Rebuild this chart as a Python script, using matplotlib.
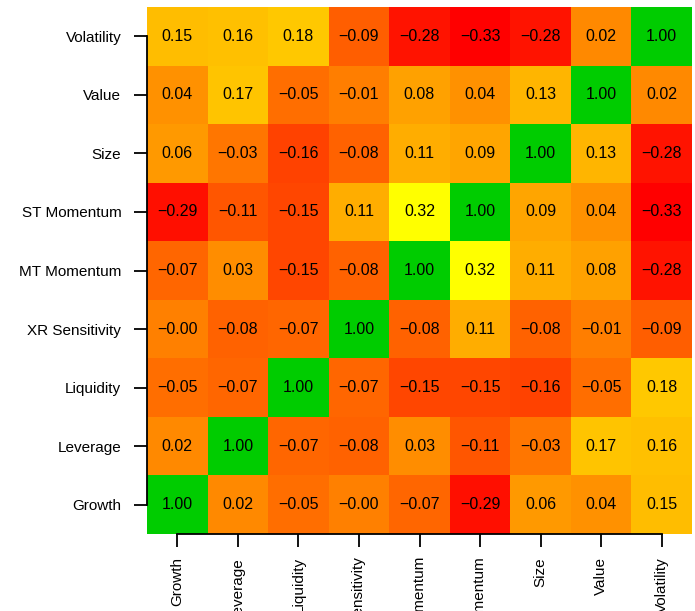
import numpy as np
import matplotlib.pyplot as plt
from matplotlib.colors import LinearSegmentedColormap

plt.rcParams['font.family'] = ['Liberation Sans', 'DejaVu Sans']

factors = ['Growth', 'Leverage', 'Liquidity', 'XR Sensitivity', 'MT Momentum',
           'ST Momentum', 'Size', 'Value', 'Volatility']

# correlation rows, listed bottom (Growth) to top (Volatility)
growth = [1.00, 0.02, -0.05, -0.004, -0.07, -0.29, 0.06, 0.04, 0.15]
leverage = [0.02, 1.00, -0.07, -0.08, 0.03, -0.11, -0.03, 0.17, 0.16]
liquidity = [-0.05, -0.07, 1.00, -0.07, -0.15, -0.15, -0.16, -0.05, 0.18]
xr_sens = [-0.004, -0.08, -0.07, 1.00, -0.08, 0.11, -0.08, -0.01, -0.09]
mt_mom = [-0.07, 0.03, -0.15, -0.08, 1.00, 0.32, 0.11, 0.08, -0.28]
st_mom = [-0.29, -0.11, -0.15, 0.11, 0.32, 1.00, 0.09, 0.04, -0.33]
size = [0.06, -0.03, -0.16, -0.08, 0.11, 0.09, 1.00, 0.13, -0.28]
value = [0.04, 0.17, -0.05, -0.01, 0.08, 0.04, 0.13, 1.00, 0.02]
volatility = [0.15, 0.16, 0.18, -0.09, -0.28, -0.33, -0.28, 0.02, 1.00]

corr = np.array([growth, leverage, liquidity, xr_sens, mt_mom,
                 st_mom, size, value, volatility])
n = len(factors)

# off-diagonal cells go red -> yellow, diagonal is green
off = np.ma.masked_where(np.eye(n, dtype=bool), corr)
diag = np.ma.masked_where(~np.eye(n, dtype=bool), corr)
heat = LinearSegmentedColormap.from_list('heat', ['#ff0000', '#ffff00'])
lo, hi = off.min(), off.max()

fig = plt.figure(figsize=(6.95, 6.11), dpi=100)
ax = fig.add_axes([147 / 695, 77 / 611, 545 / 695, 527 / 611])

edges = np.arange(n + 1) - 0.5
ax.pcolormesh(edges, edges, off, cmap=heat, vmin=lo, vmax=hi)
ax.pcolormesh(edges, edges, diag, cmap=LinearSegmentedColormap.from_list('g', ['#00cc00', '#00cc00']))

for i in range(n):
    for j in range(n):
        txt = f'{corr[i, j]:.2f}'.replace('-', '\u2212')
        ax.text(j, i, txt, ha='center', va='center', fontsize=11.5, color='black')

ax.set_xlim(-0.5, n - 0.5)
ax.set_ylim(-0.5, n - 0.5)
ax.set_xticks(range(n))
ax.set_yticks(range(n))
ax.set_xticklabels(factors, rotation=90, va='top', ha='center', fontsize=11)
ax.set_yticklabels(factors, fontsize=11)
ax.tick_params(axis='both', length=9.5, width=1.3, color='black', pad=9)
ax.tick_params(axis='x', pad=7)

for s in ['top', 'right']:
    ax.spines[s].set_visible(False)
for s in ['left', 'bottom']:
    ax.spines[s].set_bounds(0, n - 1)
    ax.spines[s].set_linewidth(1.3)

fig.savefig('out.png', dpi=100)
